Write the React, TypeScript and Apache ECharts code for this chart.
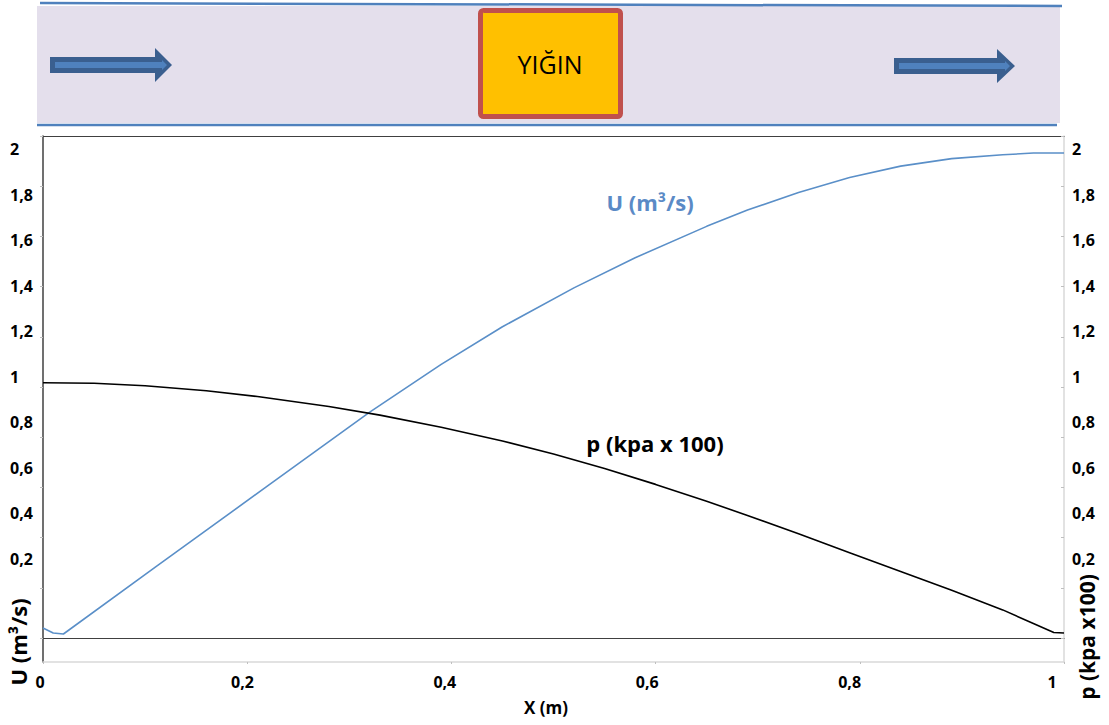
import React, { useEffect, useRef } from "react";
import * as echarts from "echarts";

// Flow velocity U along the channel (m³/s)
const uX = [0, 0.01, 0.02, 0.11, 0.22, 0.32, 0.39, 0.45, 0.52, 0.58, 0.65, 0.69, 0.74, 0.79, 0.84, 0.89, 0.94, 0.97, 1.0];
const uY = [0.04, 0.02, 0.016, 0.282, 0.606, 0.9, 1.09, 1.24, 1.395, 1.515, 1.64, 1.705, 1.775, 1.835, 1.88, 1.91, 1.925, 1.932, 1.932];

// Pressure p along the channel (kpa x 100)
const pX = [0, 0.05, 0.1, 0.16, 0.21, 0.28, 0.33, 0.39, 0.45, 0.5, 0.55, 0.6, 0.65, 0.69, 0.74, 0.79, 0.84, 0.89, 0.94, 0.97, 0.99, 1.0];
const pY = [1.017, 1.015, 1.005, 0.985, 0.962, 0.922, 0.888, 0.84, 0.785, 0.733, 0.675, 0.612, 0.545, 0.488, 0.415, 0.34, 0.265, 0.19, 0.112, 0.058, 0.022, 0.02];

// Axis tick settings
const xTicks = { min: 0, max: 1, interval: 0.2 };
const yTicks = { min: 0, max: 2, interval: 0.2 };

const FONT = "'Open Sans', 'Noto Sans', sans-serif";
const fmt = (v: number) => (v === 0 ? "" : String(+v.toFixed(1)).replace(".", ","));
const fmtX = (v: number) => String(+v.toFixed(1)).replace(".", ",");

export default function App() {
  const ref = useRef<HTMLDivElement>(null);

  useEffect(() => {
    if (!ref.current) return;
    const chart = echarts.init(ref.current, null, { renderer: "svg" });

    const hidden = { show: false };
    const labelStyle = { color: "#000", fontSize: 16, fontWeight: "bold" as const, fontFamily: FONT };

    const arrow = (x0: number, xb: number, xt: number, yc: number) => [
      {
        type: "polygon",
        shape: {
          points: [
            [x0, yc - 8], [xb, yc - 8], [xb, yc - 17], [xt, yc], [xb, yc + 17], [xb, yc + 8], [x0, yc + 8],
          ],
        },
        style: { fill: "#3a5f8f" },
      },
      {
        type: "polygon",
        shape: {
          points: [
            [x0 + 5, yc - 3], [xt - 10, yc - 3], [xt - 10, yc - 5], [xt - 5, yc], [xt - 10, yc + 5], [xt - 10, yc + 3], [x0 + 5, yc + 3],
          ],
        },
        style: { fill: "#4f81bd" },
      },
    ];

    chart.setOption({
      animation: false,
      backgroundColor: "#fff",
      textStyle: { fontFamily: FONT },
      grid: [
        { left: 43, right: 45, top: 136, bottom: 87 },
        { left: 43, right: 45, top: 136, bottom: 63 },
        { left: 40, right: 57, top: 149, bottom: 121 },
      ],
      xAxis: [
        {
          type: "value", gridIndex: 0, ...xTicks, position: "bottom",
          axisLine: { show: true, onZero: false, lineStyle: { color: "#404040", width: 1 } },
          axisTick: hidden, axisLabel: hidden, splitLine: hidden,
        },
        {
          type: "value", gridIndex: 1, ...xTicks, position: "bottom",
          axisLine: { show: true, onZero: false, lineStyle: { color: "#d9d9d9", width: 1.5 } },
          axisTick: { show: true, length: 2, lineStyle: { color: "#bfbfbf" } },
          axisLabel: hidden, splitLine: hidden,
        },
        {
          type: "value", gridIndex: 1, ...xTicks, position: "top",
          axisLine: { show: true, onZero: false, lineStyle: { color: "#404040", width: 1 } },
          axisTick: hidden, axisLabel: hidden, splitLine: hidden,
        },
        {
          type: "value", gridIndex: 2, ...xTicks, position: "bottom", offset: 58,
          axisLine: { show: false, onZero: false }, axisTick: hidden, splitLine: hidden,
          axisLabel: { ...labelStyle, margin: 12, formatter: fmtX },
          name: "X (m)", nameLocation: "middle", nameGap: 37,
          nameTextStyle: { color: "#000", fontSize: 17, fontWeight: "bold", fontFamily: FONT },
        },
      ],
      yAxis: [
        {
          type: "value", gridIndex: 0, ...yTicks, position: "left",
          axisLine: { show: false, onZero: false },
          axisTick: { show: true, length: 3, lineStyle: { color: "#bfbfbf" } },
          axisLabel: hidden, splitLine: hidden,
        },
        {
          type: "value", gridIndex: 0, ...yTicks, position: "right",
          axisLine: { show: false, onZero: false },
          axisTick: { show: true, inside: true, length: 3, lineStyle: { color: "#bfbfbf" } },
          axisLabel: hidden, splitLine: hidden,
        },
        {
          type: "value", gridIndex: 1, min: 0, max: 1, position: "left",
          axisLine: { show: true, onZero: false, lineStyle: { color: "#404040", width: 1.5 } },
          axisTick: hidden, axisLabel: hidden, splitLine: hidden,
        },
        {
          type: "value", gridIndex: 1, min: 0, max: 1, position: "right",
          axisLine: { show: true, onZero: false, lineStyle: { color: "#d9d9d9", width: 1.5 } },
          axisTick: hidden, axisLabel: hidden, splitLine: hidden,
        },
        {
          type: "value", gridIndex: 2, ...yTicks, position: "left",
          axisLine: { show: false, onZero: false }, axisTick: hidden, splitLine: hidden,
          axisLabel: { ...labelStyle, align: "left", margin: 30, formatter: fmt },
        },
        {
          type: "value", gridIndex: 2, ...yTicks, position: "right",
          axisLine: { show: false, onZero: false }, axisTick: hidden, splitLine: hidden,
          axisLabel: { ...labelStyle, align: "left", margin: 20, formatter: fmt },
        },
      ],
      series: [
        {
          name: "U (m³/s)", type: "line", xAxisIndex: 0, yAxisIndex: 0,
          data: uX.map((x, i) => [x, uY[i]]),
          showSymbol: false, smooth: false,
          lineStyle: { color: "#5a8fc8", width: 1.6 },
        },
        {
          name: "p (kpa x 100)", type: "line", xAxisIndex: 0, yAxisIndex: 0,
          data: pX.map((x, i) => [x, pY[i]]),
          showSymbol: false, smooth: false,
          lineStyle: { color: "#000", width: 1.6 },
        },
      ],
      graphic: [
        // channel with the pile in the middle
        { type: "rect", shape: { x: 37, y: 6, width: 1023, height: 117 }, style: { fill: "#e4dfec" } },
        { type: "line", shape: { x1: 40, y1: 3, x2: 1062, y2: 6 }, style: { stroke: "#4f81bd", lineWidth: 2.5 } },
        { type: "line", shape: { x1: 37, y1: 125, x2: 1057, y2: 125 }, style: { stroke: "#4f81bd", lineWidth: 2.5 } },
        ...arrow(50, 155, 172, 65),
        ...arrow(894, 997, 1015, 66),
        {
          type: "rect",
          shape: { x: 480.5, y: 10.5, width: 140, height: 106, r: 3 },
          style: { fill: "#ffc000", stroke: "#c0504d", lineWidth: 5 },
        },
        {
          type: "text", x: 550, y: 64,
          style: { text: "YIĞIN", fill: "#000", fontSize: 25, fontFamily: FONT, align: "center", verticalAlign: "middle" },
        },
        // curve names
        {
          type: "text", x: 650, y: 202,
          style: { text: "U (m³/s)", fill: "#5a8ac6", fontSize: 22, fontWeight: "bold", fontFamily: FONT, align: "center", verticalAlign: "middle" },
        },
        {
          type: "text", x: 655, y: 443,
          style: { text: "p (kpa x 100)", fill: "#000", fontSize: 22, fontWeight: "bold", fontFamily: FONT, align: "center", verticalAlign: "middle" },
        },
        // axis titles
        {
          type: "text", x: 18, y: 642, rotation: Math.PI / 2,
          style: { text: "U (m³/s)", fill: "#000", fontSize: 22, fontWeight: "bold", fontFamily: FONT, align: "center", verticalAlign: "middle" },
        },
        {
          type: "text", x: 1087, y: 637, rotation: Math.PI / 2,
          style: { text: "p (kpa x100)", fill: "#000", fontSize: 21, fontWeight: "bold", fontFamily: FONT, align: "center", verticalAlign: "middle" },
        },
      ],
    });

    return () => chart.dispose();
  }, []);

  return (
    <div
      ref={ref}
      style={{ position: "absolute", left: 0, top: 0, width: 1109, height: 725 }}
    />
  );
}
